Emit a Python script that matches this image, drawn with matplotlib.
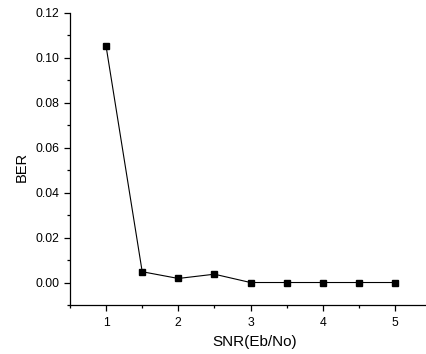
import matplotlib
matplotlib.use("Agg")
import matplotlib.pyplot as plt
from matplotlib.ticker import MultipleLocator

snr = [1, 1.5, 2, 2.5, 3, 3.5, 4, 4.5, 5]
ber = [0.105, 0.0048, 0.0018, 0.0037, 0.0, 0.0, 0.0, 0.0, 0.0]

plt.rcParams['font.family'] = ['Liberation Sans', 'DejaVu Sans']
W, H = 426, 354
fig = plt.figure(figsize=(W/100, H/100), dpi=100)
x0, x1 = 70, 431
y0, y1 = 305, 12.7
ax = fig.add_axes([x0/W, 1 - y0/H, (x1-x0)/W, (y0-y1)/H])
ax.plot(snr, ber, color='black', lw=0.8, marker='s', markersize=4.5,
        markerfacecolor='black', markeredgecolor='black')
ax.set_xlim(0.5, 5.5)
ax.set_ylim(-0.01, 0.12)
ax.xaxis.set_major_locator(MultipleLocator(1))
ax.xaxis.set_minor_locator(MultipleLocator(0.5))
ax.yaxis.set_major_locator(MultipleLocator(0.02))
ax.yaxis.set_minor_locator(MultipleLocator(0.01))
ax.yaxis.set_major_formatter(matplotlib.ticker.FormatStrFormatter('%.2f'))
ax.spines['top'].set_visible(False)
ax.spines['right'].set_visible(False)
for s in ('left', 'bottom'):
    ax.spines[s].set_linewidth(0.9)
ax.tick_params(which='major', direction='out', length=4.5, width=0.9, labelsize=8.8, pad=3)
ax.tick_params(axis='x', which='major', pad=4)
ax.tick_params(which='minor', direction='out', length=2.2, width=0.9)
ax.set_xlabel('SNR(Eb/No)', fontsize=11)
ax.set_ylabel('BER', fontsize=10.5)
ax.xaxis.set_label_coords((255 - x0)/(x1 - x0), -(342 - y0)/(y0 - y1), transform=ax.transAxes)
ax.xaxis.label.set_va('center')
ax.yaxis.set_label_coords(-(70 - 22)/(x1 - x0), (y0 - 167)/(y0 - y1))
ax.yaxis.label.set_va('center')
fig.savefig('out.png', dpi=100)
